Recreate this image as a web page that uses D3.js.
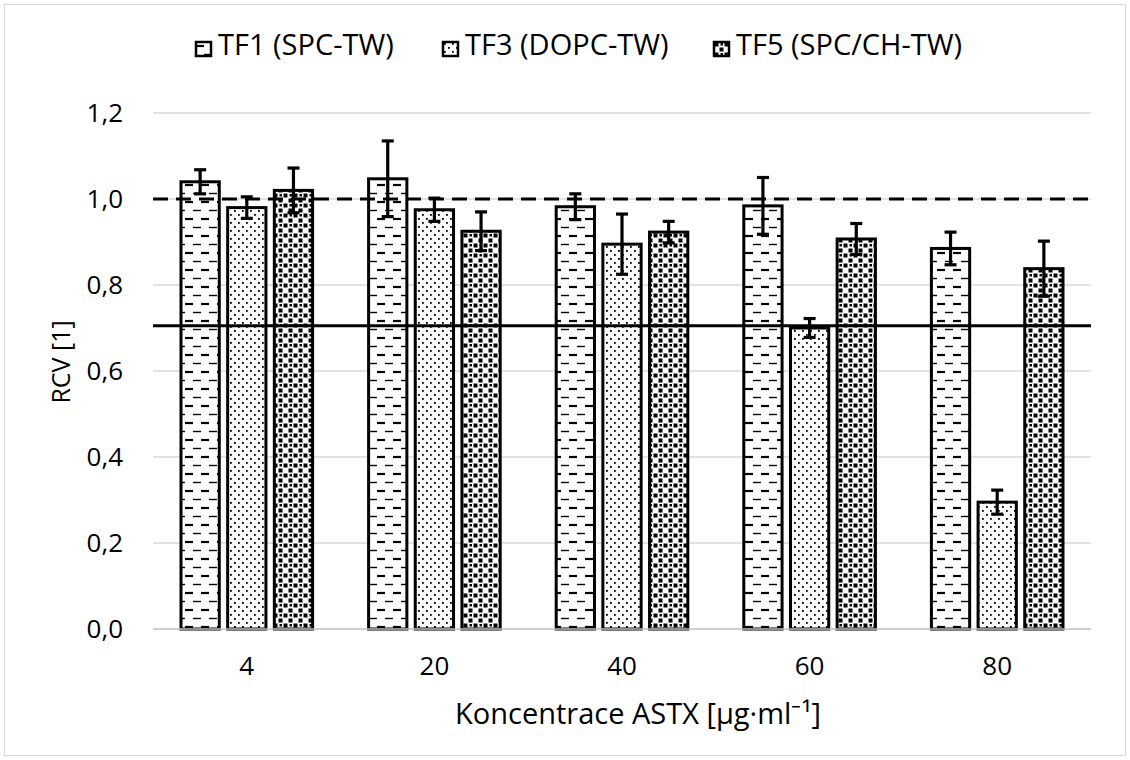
<!DOCTYPE html>
<html>
<head>
<meta charset="utf-8">
<script src="https://cdn.jsdelivr.net/npm/d3@7"></script>
<style>
  body { margin: 0; background: #fff; }
  text { font-family: "Open Sans", sans-serif; fill: #000; }
</style>
</head>
<body>
<svg id="chart" width="1130" height="760"></svg>
<script>
// data
var concentrations = ['4', '20', '40', '60', '80'];
var seriesNames = ['TF1 (SPC-TW)', 'TF3 (DOPC-TW)', 'TF5 (SPC/CH-TW)'];
var tf1 = [1.040, 1.047, 0.982, 0.984, 0.885];
var tf3 = [0.980, 0.975, 0.895, 0.700, 0.295];
var tf5 = [1.020, 0.925, 0.923, 0.907, 0.838];
var tf1Err = [0.028, 0.088, 0.030, 0.066, 0.038];
var tf3Err = [0.025, 0.027, 0.070, 0.022, 0.028];
var tf5Err = [0.052, 0.045, 0.025, 0.036, 0.064];
var yTicks = [0, 0.2, 0.4, 0.6, 0.8, 1.0, 1.2];
var refDashed = 1.0;
var refSolid = 0.705;

var svg = d3.select('#chart');
var width = +svg.attr('width');
var height = +svg.attr('height');

var padding = {t: 113, r: 39, b: 131, l: 153};
var chartWidth = width - padding.l - padding.r;
var chartHeight = height - padding.t - padding.b;

// outer frame
svg.append('rect')
    .attr('x', 4.5).attr('y', 4.5)
    .attr('width', width - 9).attr('height', height - 9)
    .attr('fill', '#fff').attr('stroke', '#d9d9d9').attr('stroke-width', 1);

// fill patterns
var defs = svg.append('defs');

var p1 = defs.append('pattern').attr('id', 'pat0')
    .attr('patternUnits', 'userSpaceOnUse').attr('width', 16).attr('height', 17);
p1.append('rect').attr('width', 16).attr('height', 17).attr('fill', '#fff');
p1.append('line').attr('x1', 0).attr('x2', 8).attr('y1', 4).attr('y2', 4)
    .attr('stroke', '#000').attr('stroke-width', 2.2);
p1.append('line').attr('x1', 8).attr('x2', 16).attr('y1', 12.5).attr('y2', 12.5)
    .attr('stroke', '#000').attr('stroke-width', 1.4);

var p2 = defs.append('pattern').attr('id', 'pat1')
    .attr('patternUnits', 'userSpaceOnUse').attr('width', 8).attr('height', 8);
p2.append('rect').attr('width', 8).attr('height', 8).attr('fill', '#fff');
p2.append('rect').attr('x', 1).attr('y', 1).attr('width', 1.8).attr('height', 1.8).attr('fill', '#000');
p2.append('rect').attr('x', 5).attr('y', 5).attr('width', 1.8).attr('height', 1.8).attr('fill', '#000');

var p3 = defs.append('pattern').attr('id', 'pat2')
    .attr('patternUnits', 'userSpaceOnUse').attr('width', 10).attr('height', 10);
p3.append('rect').attr('width', 10).attr('height', 10).attr('fill', '#fff');
p3.append('rect').attr('x', 0.5).attr('y', 0.5).attr('width', 4).attr('height', 4).attr('fill', '#000');
p3.append('rect').attr('x', 5.5).attr('y', 5.5).attr('width', 4).attr('height', 4).attr('fill', '#000');
p3.append('rect').attr('x', 6.5).attr('y', 1).attr('width', 2.5).attr('height', 2.5).attr('fill', '#000');

var chart = svg.append('g')
    .attr('transform', 'translate(' + [padding.l, padding.t] + ')');

var xScale = d3.scaleBand().domain(concentrations).range([0, chartWidth]);
var seriesScale = d3.scaleBand().domain(d3.range(3))
    .range([28, xScale.bandwidth() - 28]).paddingInner(0.18);
var yScale = d3.scaleLinear().domain([0, 1.2]).range([chartHeight, 0]);

// gridlines
chart.append('g')
    .selectAll('line')
    .data(yTicks.slice(1))
    .enter().append('line')
    .attr('x1', 0).attr('x2', chartWidth)
    .attr('y1', function(d) { return yScale(d); })
    .attr('y2', function(d) { return yScale(d); })
    .attr('stroke', '#d9d9d9').attr('stroke-width', 1.3);

// y tick labels
chart.append('g')
    .selectAll('text')
    .data(yTicks)
    .enter().append('text')
    .attr('x', -30)
    .attr('y', function(d) { return yScale(d); })
    .attr('dy', '0.36em')
    .attr('text-anchor', 'end')
    .style('font-size', '26px')
    .text(function(d) { return d.toFixed(1).replace('.', ','); });

var series = [
    {vals: tf1, err: tf1Err},
    {vals: tf3, err: tf3Err},
    {vals: tf5, err: tf5Err}
];
var rows = [];
series.forEach(function(s, si) {
    concentrations.forEach(function(c, ci) {
        rows.push({cat: c, s: si, v: s.vals[ci], e: s.err[ci]});
    });
});

// bars
chart.append('g')
    .selectAll('rect')
    .data(rows)
    .enter().append('rect')
    .attr('x', function(d) { return xScale(d.cat) + seriesScale(d.s); })
    .attr('y', function(d) { return yScale(d.v); })
    .attr('width', seriesScale.bandwidth())
    .attr('height', function(d) { return chartHeight - yScale(d.v); })
    .attr('fill', function(d) { return 'url(#pat' + d.s + ')'; })
    .attr('stroke', '#000').attr('stroke-width', 3);

// x axis line
chart.append('line')
    .attr('x1', 0).attr('x2', chartWidth)
    .attr('y1', chartHeight).attr('y2', chartHeight)
    .attr('stroke', '#bfbfbf').attr('stroke-width', 1.5);

// reference lines
chart.append('line')
    .attr('x1', 0).attr('x2', chartWidth)
    .attr('y1', yScale(refDashed)).attr('y2', yScale(refDashed))
    .attr('stroke', '#000').attr('stroke-width', 3)
    .attr('stroke-dasharray', '15,8');
chart.append('line')
    .attr('x1', 0).attr('x2', chartWidth)
    .attr('y1', yScale(refSolid)).attr('y2', yScale(refSolid))
    .attr('stroke', '#000').attr('stroke-width', 3);

// error bars
var errG = chart.append('g').attr('stroke', '#000').attr('stroke-width', 3.2);
rows.forEach(function(d) {
    var cx = xScale(d.cat) + seriesScale(d.s) + seriesScale.bandwidth() / 2;
    var y1 = yScale(d.v + d.e), y2 = yScale(d.v - d.e);
    errG.append('line').attr('x1', cx).attr('x2', cx).attr('y1', y1).attr('y2', y2);
    errG.append('line').attr('x1', cx - 6).attr('x2', cx + 6).attr('y1', y1).attr('y2', y1);
    errG.append('line').attr('x1', cx - 6).attr('x2', cx + 6).attr('y1', y2).attr('y2', y2);
});

// x tick labels
chart.append('g')
    .selectAll('text')
    .data(concentrations)
    .enter().append('text')
    .attr('x', function(d) { return xScale(d) + xScale.bandwidth() / 2; })
    .attr('y', chartHeight + 46)
    .attr('text-anchor', 'middle')
    .style('font-size', '26px')
    .text(function(d) { return d; });

// axis titles
svg.append('text')
    .attr('x', 638)
    .attr('y', 724)
    .attr('text-anchor', 'middle')
    .style('font-size', '29px')
    .text('Koncentrace ASTX [\u00b5g\u00b7ml\u207b\u00b9]');

svg.append('text')
    .attr('transform', 'translate(70,362)rotate(-90)')
    .attr('text-anchor', 'middle')
    .style('font-size', '25px')
    .text('RCV [1]');

// legend
var legendX = [196, 443, 714];
var legend = svg.append('g')
    .selectAll('g')
    .data(seriesNames)
    .enter().append('g')
    .attr('transform', function(d, i) { return 'translate(' + [legendX[i], 42] + ')'; });
legend.append('rect')
    .attr('width', 15).attr('height', 14)
    .attr('fill', function(d, i) { return 'url(#pat' + i + ')'; })
    .attr('stroke', '#000').attr('stroke-width', 2.5);
legend.append('text')
    .attr('x', 22).attr('y', 13)
    .style('font-size', '29px')
    .text(function(d) { return d; });
</script>
</body>
</html>
